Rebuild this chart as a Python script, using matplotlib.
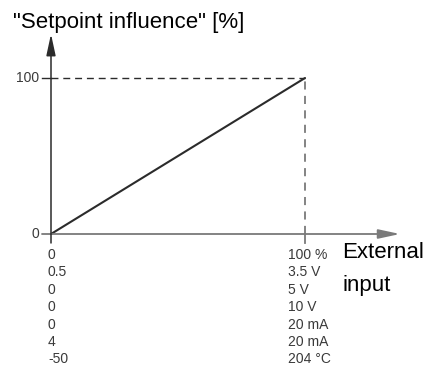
import matplotlib.pyplot as plt

plt.rcParams['font.family'] = ['Liberation Sans', 'DejaVu Sans']

# characteristic: external input (0..100 %) -> setpoint influence (0..100 %)
input_pct = [0, 100]
influence_pct = [0, 100]

# equivalent ranges of the external input, start and end value
range_start = ["0", "0.5", "0", "0", "0", "4", "-50"]
range_end = ["100 %", "3.5 V", "5 V", "10 V", "20 mA", "20 mA", "204 °C"]

W, H = 426, 367
fig = plt.figure(figsize=(W / 100, H / 100), dpi=100)
ax = fig.add_axes([0, 0, 1, 1])
ax.axis('off')

# pixel placement of origin and of the 100/100 point
x0, y0 = 51, 234
sx = (305 - x0) / 100
sy = (y0 - 78) / 100
ax.set_xlim(-x0 / sx, (W - x0) / sx)
ax.set_ylim((y0 - H) / sy, y0 / sy)

axis_gray = '#7a7a7a'
dark = '#2b2b2b'

# axes with arrow heads
ax.annotate('', xy=((400 - x0) / sx, 0), xytext=(-9 / sx, 0),
            arrowprops=dict(arrowstyle='-|>,head_length=13,head_width=2.8',
                            mutation_scale=1, color=axis_gray, lw=1.3,
                            shrinkA=0, shrinkB=0))
ax.annotate('', xy=(0, (y0 - 34) / sy), xytext=(0, -9 / sy),
            arrowprops=dict(arrowstyle='-|>,head_length=13,head_width=2.8',
                            mutation_scale=1, color=dark, lw=1.1,
                            shrinkA=0, shrinkB=0))

# guide lines to 100 / 100 %
ax.plot([-9 / sx, 0], [influence_pct[1]] * 2, color=dark, lw=1)
ax.plot([0, input_pct[1]], [influence_pct[1]] * 2, color=dark, lw=1,
        ls=(0, (5, 3.5)))
ax.plot([input_pct[1]] * 2, [0, influence_pct[1]], color=axis_gray, lw=1.3,
        ls=(0, (4.5, 3.5)))
ax.plot([input_pct[1]] * 2, [-9 / sy, 0], color=axis_gray, lw=1.3)

# characteristic line
ax.plot(input_pct, influence_pct, color=dark, lw=1.5, solid_capstyle='round')

# y tick labels
for v in influence_pct:
    ax.annotate(str(v), (0, v), xytext=(-12, 0), textcoords='offset pixels',
                ha='right', va='center', fontsize=10, color='#3a3a3a')

# input range table
for i, (a, b) in enumerate(zip(range_start, range_end)):
    dy = -21 - 17.4 * i
    ax.annotate(a, (input_pct[0], 0), xytext=(-3, dy), textcoords='offset pixels',
                ha='left', va='center', fontsize=10, color='#3a3a3a')
    ax.annotate(b, (input_pct[1], 0), xytext=(-17, dy), textcoords='offset pixels',
                ha='left', va='center', fontsize=10, color='#3a3a3a')

ax.annotate('External', (input_pct[1], 0), xytext=(37, -19),
            textcoords='offset pixels', ha='left', va='center', fontsize=16)
ax.annotate('input', (input_pct[1], 0), xytext=(37, -52),
            textcoords='offset pixels', ha='left', va='center', fontsize=16)

fig.text(13 / W, 1 - 28 / H, '"Setpoint influence" [%]', ha='left',
         va='baseline', fontsize=16)

fig.savefig('out.png', dpi=100)
